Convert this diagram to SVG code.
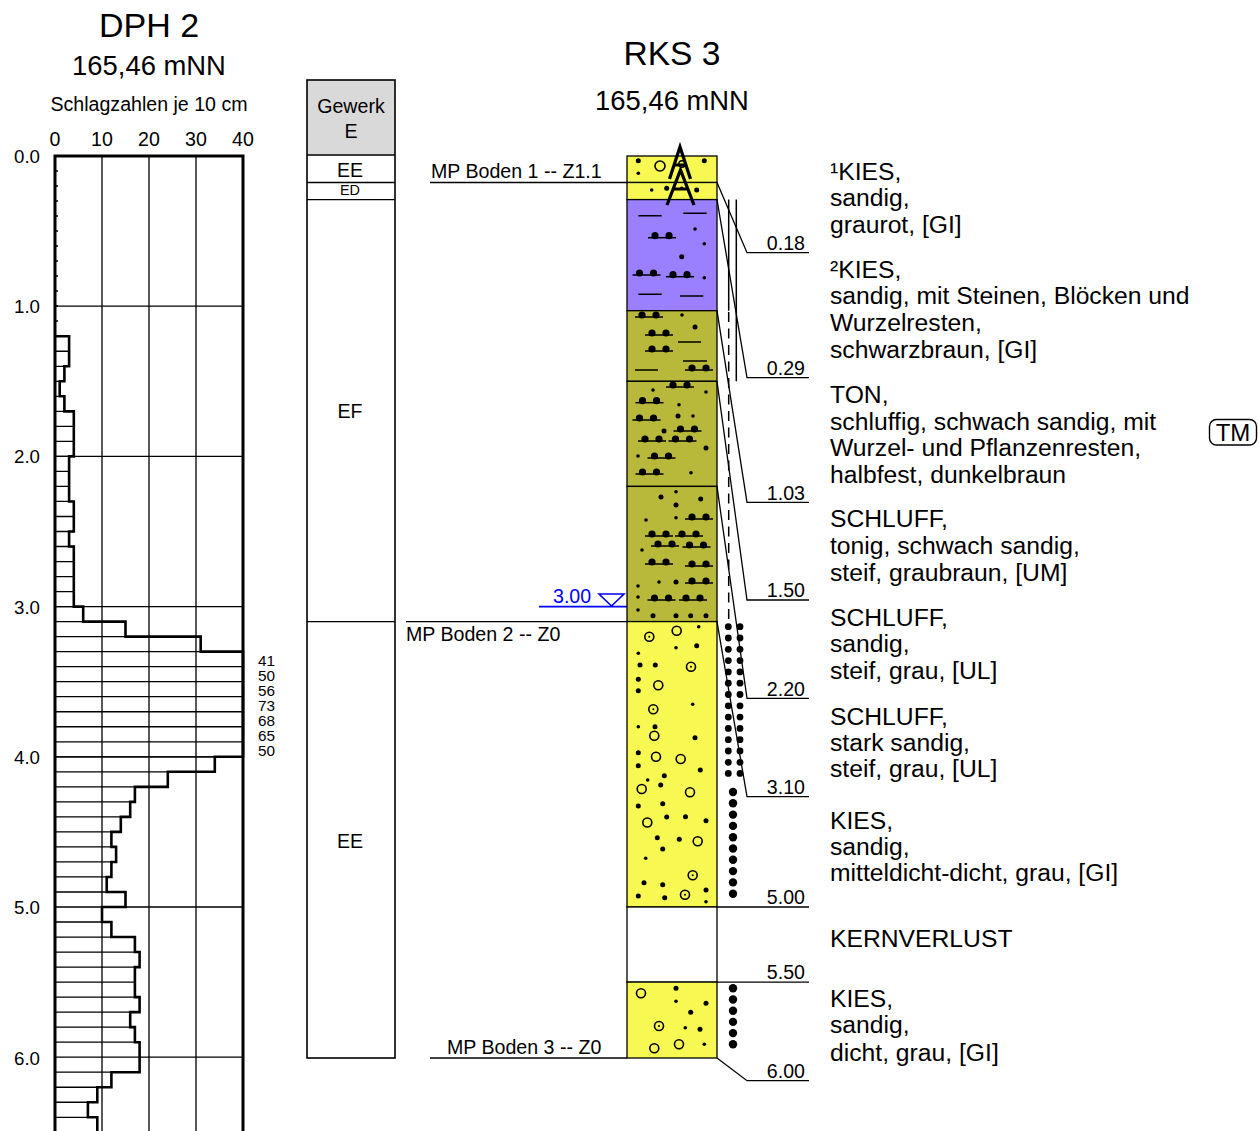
<svg xmlns="http://www.w3.org/2000/svg" width="1259" height="1131" viewBox="0 0 1259 1131">
<style>
text{font-family:"Liberation Sans",Arial,Helvetica,sans-serif;fill:#000}
.s{font-size:19.6px}
.d{font-size:24.7px}
.c{text-anchor:middle}
.r{text-anchor:end}
.th{stroke:#000;stroke-width:1.3;fill:none}
.tk{stroke:#000;stroke-width:2.6;fill:none}
.lay{stroke:#000;stroke-width:1.3}
.ds{stroke:#000;stroke-width:1.5}
.ye{fill:#f8f852}
.pu{fill:#9a80ff}
.ol{fill:#b8b83a}
</style>
<defs>
<g id="m"><path d="M-14,0H14" stroke="#000" stroke-width="1.5"/><circle cx="-7" cy="-2" r="3.6"/><circle cx="7" cy="-2" r="3.6"/></g>
<circle id="o" r="4.5" fill="none" stroke="#000" stroke-width="1.6"/>
<g id="od"><circle r="4.5" fill="none" stroke="#000" stroke-width="1.6"/><circle r="1"/></g>
<circle id="b" r="2.5"/>
<circle id="p" r="1.8"/>
<circle id="k" r="3.4"/>
<circle id="K" r="4.2"/>
</defs>

<!-- DPH 2 -->
<g id="dph">
<text x="149" y="37" class="c" style="font-size:34px">DPH 2</text>
<text x="149" y="75" class="c" style="font-size:27.4px">165,46 mNN</text>
<text x="149" y="111" class="c s">Schlagzahlen je 10 cm</text>
<g class="s c">
<text x="55" y="146">0</text><text x="102" y="146">10</text><text x="149" y="146">20</text><text x="196" y="146">30</text><text x="243" y="146">40</text>
</g>
<g class="s r" style="font-size:18.7px">
<text x="40" y="163">0.0</text><text x="40" y="313">1.0</text><text x="40" y="463">2.0</text><text x="40" y="614">3.0</text><text x="40" y="764">4.0</text><text x="40" y="914">5.0</text><text x="40" y="1065">6.0</text>
</g>
<path class="th" d="M102,156V1131M149,156V1131M196,156V1131M55,306.2H243M55,456.4H243M55,606.6H243M55,756.8H243M55,907H243M55,1057.2H243"/>
<path class="th" d="M55,171H58M55,186H58M55,201H58M55,216H58M55,231H58M55,246H58M55,261H58M55,276H58M55,291H58M55,306H58M55,321H58"/>
<path class="th" d="M55,351.26H69.1M55,366.28H69.1M55,381.3H64.4M55,396.32H64.4M55,411.34H73.8M55,426.36H73.8M55,441.38H73.8M55,456.4H73.8M55,471.42H69.1M55,486.44H69.1M55,501.46H73.8M55,516.48H73.8M55,531.5H73.8M55,546.52H73.8M55,561.54H73.8M55,576.56H73.8M55,591.58H73.8M55,606.6H83.2M55,621.62H125.5M55,636.64H200.7M55,651.66H243M55,666.68H243M55,681.7H243M55,696.72H243M55,711.74H243M55,726.76H243M55,741.78H243M55,756.8H243M55,771.82H214.8M55,786.84H167.8M55,801.86H134.9M55,816.88H130.2M55,831.9H120.8M55,846.92H116.1M55,861.94H116.1M55,876.96H111.4M55,891.98H125.5M55,922.02H111.4M55,937.04H134.9M55,952.06H139.6M55,967.08H139.6M55,982.1H134.9M55,997.12H139.6M55,1012.14H139.6M55,1027.16H134.9M55,1042.18H139.6M55,1072.22H139.6M55,1087.24H111.4M55,1102.26H97.3M55,1117.28H97.3"/>
<path class="tk" d="M55,336.24H69.1V366.28H64.4V381.3H59.7V396.32H64.4V411.34H73.8V456.4H69.1V501.46H73.8V531.5H69.1V546.52H73.8V606.6H83.2V621.62H125.5V636.64H200.7V651.66H243V756.8H214.8V771.82H167.8V786.84H134.9V801.86H130.2V816.88H120.8V831.9H111.4V846.92H116.1V861.94H111.4V876.96H106.7V891.98H125.5V907H102V922.02H111.4V937.04H134.9V952.06H139.6V967.08H134.9V997.12H139.6V1012.14H130.2V1027.16H134.9V1042.18H139.6V1072.22H111.4V1087.24H97.3V1102.26H87.9V1117.28H97.3V1131"/>
<path class="tk" d="M55,1131V156H243V1131" style="stroke-width:3"/>
<g style="font-size:15.3px">
<text x="258" y="666">41</text><text x="258" y="681">50</text><text x="258" y="696">56</text><text x="258" y="711">73</text><text x="258" y="726">68</text><text x="258" y="741">65</text><text x="258" y="756">50</text>
</g>
</g>

<!-- Gewerk column -->
<g id="gewerk">
<rect x="307" y="80" width="88" height="75" fill="#d9d9d9"/>
<rect x="307" y="80" width="88" height="978" fill="none" stroke="#000" stroke-width="1.6"/>
<path class="th" d="M307,155H395M307,182.5H395M307,199.6H395M307,621.6H395"/>
<text x="351" y="113" class="c s">Gewerk</text>
<text x="351" y="138" class="c s">E</text>
<text x="350" y="177" class="c s">EE</text>
<text x="350" y="195" class="c" style="font-size:14.4px">ED</text>
<text x="350" y="418" class="c s">EF</text>
<text x="350" y="848" class="c s">EE</text>
</g>

<!-- RKS 3 header -->
<g id="rks-title">
<text x="672" y="65" class="c" style="font-size:33.6px">RKS 3</text>
<text x="672" y="110" class="c" style="font-size:27.4px">165,46 mNN</text>
</g>

<!-- sample markers / water level -->
<g id="samples">
<text x="431" y="178" class="s">MP Boden 1 -- Z1.1</text>
<path class="th" d="M430,182.5H627"/>
<text x="406" y="641" class="s">MP Boden 2 -- Z0</text>
<path class="th" d="M406,621.6H627"/>
<text x="447" y="1054" class="s">MP Boden 3 -- Z0</text>
<path class="th" d="M430,1058H627"/>
</g>
<g id="water">
<text x="553" y="603" class="s" style="fill:#0000ff">3.00</text>
<path d="M539,606.6H627M599,594H624L611.5,606Z" fill="none" stroke="#0000ff" stroke-width="1.6"/>
</g>

<!-- RKS column layers -->
<g id="rks">
<g id="layer1">
<rect class="ye lay" x="627" y="156" width="90" height="26.5"/>
<use href="#b" x="638.3" y="160.7"/><use href="#b" x="704.3" y="160.7"/><use href="#p" x="638.3" y="173.3"/>
<circle cx="660" cy="166" r="5" fill="none" stroke="#000" stroke-width="1.6"/>
<circle cx="682" cy="164" r="3.2" fill="none" stroke="#000" stroke-width="1.4"/>
</g>
<g id="layer2">
<rect class="ye lay" x="627" y="182.5" width="90" height="17.1"/>
<use href="#p" x="651.7" y="190"/><use href="#b" x="666.7" y="188.3"/><use href="#p" x="681.7" y="188.3"/><use href="#b" x="696.7" y="190"/>
</g>
<g id="layer3">
<rect class="pu lay" x="627" y="199.6" width="90" height="111.1"/>
<path class="ds" d="M638.3,215.7H661.7M683.3,213.3H706.7M638.3,294.3H661.7M680,296H703.3"/>
<use href="#m" x="662" y="237.7"/><use href="#m" x="646.5" y="275"/><use href="#m" x="680" y="276.7"/>
<use href="#p" x="695" y="229"/><use href="#p" x="704.3" y="243.7"/><use href="#b" x="681.7" y="256.7"/><use href="#p" x="704.3" y="277.7"/>
</g>
<g id="layer4">
<rect class="ol lay" x="627" y="310.7" width="90" height="70.6"/>
<path class="ds" d="M678,342H701M683,361H707M635,370H658"/>
<use href="#m" x="649" y="317"/><use href="#m" x="659" y="335"/><use href="#m" x="659" y="351"/><use href="#m" x="699" y="370"/>
<use href="#p" x="682" y="315"/><use href="#b" x="695" y="327"/>
</g>
<g id="layer5">
<rect class="ol lay" x="627" y="381.3" width="90" height="105.1"/>
<use href="#m" x="680" y="387"/><use href="#m" x="649.5" y="402.7"/><use href="#m" x="646.5" y="420"/><use href="#m" x="687.5" y="431"/><use href="#m" x="652" y="441"/><use href="#m" x="682.5" y="441"/><use href="#m" x="661.5" y="458"/><use href="#m" x="649.5" y="474"/>
<use href="#p" x="653" y="390"/><use href="#p" x="706" y="392"/><use href="#p" x="679" y="404.7"/><use href="#b" x="678" y="416"/><use href="#p" x="693" y="416"/><use href="#b" x="664" y="431"/><use href="#b" x="706" y="448"/><use href="#p" x="638" y="456"/><use href="#p" x="691" y="472.7"/>
</g>
<g id="layer6">
<rect class="ol lay" x="627" y="486.4" width="90" height="135.2"/>
<use href="#m" x="699" y="519"/><use href="#m" x="659" y="536"/><use href="#m" x="689" y="536"/><use href="#m" x="665" y="546"/><use href="#m" x="696.5" y="547"/><use href="#m" x="659" y="564"/><use href="#m" x="699" y="566"/><use href="#m" x="699" y="583"/><use href="#m" x="661.5" y="600"/><use href="#m" x="693" y="600"/>
<use href="#b" x="661" y="497"/><use href="#p" x="676" y="491.7"/><use href="#b" x="676" y="505"/><use href="#b" x="700.7" y="499"/><use href="#p" x="646" y="520"/><use href="#p" x="676" y="517.7"/><use href="#p" x="642" y="550"/><use href="#p" x="659" y="582"/><use href="#b" x="676" y="582"/><use href="#p" x="638" y="586"/><use href="#p" x="638" y="597"/><use href="#p" x="638" y="610"/><use href="#b" x="653" y="615.7"/><use href="#b" x="676" y="615.7"/><use href="#b" x="690.7" y="615.7"/><use href="#b" x="706" y="615.7"/>
</g>
<g id="layer7">
<rect class="ye lay" x="627" y="621.6" width="90" height="285.4"/>
<use href="#od" x="649.3" y="636.7"/><use href="#od" x="691" y="666.7"/><use href="#od" x="653.3" y="709.3"/><use href="#od" x="692.7" y="875.3"/><use href="#od" x="685" y="894.7"/>
<use href="#o" x="676.7" y="630.7"/><use href="#o" x="658.3" y="685.3"/><use href="#o" x="654.3" y="735.7"/><use href="#o" x="656" y="756.7"/><use href="#o" x="680.7" y="759"/><use href="#o" x="641.7" y="789"/><use href="#o" x="690" y="792.3"/><use href="#o" x="647.3" y="822.5"/><use href="#o" x="697.7" y="841.3"/>
<use href="#p" x="698.7" y="626.7"/><use href="#p" x="676" y="647.7"/><use href="#b" x="696.7" y="645.7"/><use href="#p" x="638.3" y="653.3"/><use href="#b" x="640" y="665"/><use href="#b" x="655.3" y="665"/><use href="#b" x="638.3" y="679.3"/><use href="#b" x="638.3" y="690.7"/><use href="#p" x="692.7" y="704.3"/><use href="#p" x="638.3" y="726.7"/><use href="#b" x="655" y="726.7"/><use href="#b" x="695" y="737.7"/><use href="#b" x="638.3" y="752.7"/><use href="#b" x="638.3" y="765.7"/><use href="#b" x="700.3" y="770"/><use href="#b" x="664.3" y="775.7"/><use href="#p" x="647.7" y="780"/><use href="#b" x="660.7" y="785"/><use href="#b" x="662.7" y="803.7"/><use href="#b" x="638.3" y="806"/><use href="#b" x="666.7" y="817"/><use href="#b" x="685.5" y="816.7"/><use href="#b" x="706" y="820.7"/><use href="#b" x="657.3" y="837.7"/><use href="#b" x="679.3" y="839.3"/><use href="#b" x="662.7" y="849"/><use href="#p" x="645.7" y="858.3"/><use href="#b" x="644" y="882.7"/><use href="#b" x="662.7" y="884.7"/><use href="#b" x="706" y="890"/><use href="#b" x="638.3" y="896"/><use href="#b" x="664.7" y="897.7"/><use href="#p" x="706" y="901.7"/>
</g>
<g id="layer8">
<rect class="lay" x="627" y="907" width="90" height="75.1" fill="#fff"/>
</g>
<g id="layer9">
<rect class="ye lay" x="627" y="982.1" width="90" height="75.9"/>
<use href="#o" x="641" y="993.3"/><use href="#o" x="654.3" y="1048.3"/><use href="#o" x="679" y="1044.3"/><use href="#od" x="659" y="1026"/>
<use href="#b" x="676" y="988.3"/><use href="#p" x="676" y="1001.3"/><use href="#b" x="706" y="1003.3"/><use href="#b" x="690.7" y="1012.3"/><use href="#p" x="685.3" y="1027.7"/><use href="#b" x="700" y="1029.3"/><use href="#p" x="704.3" y="1044.3"/>
</g>
<g id="drill">
<path d="M669.5,179L680,147L690.5,179M675,165H685M667,205L680.5,170L694,205M672.5,189H688.5" fill="none" stroke="#000" stroke-width="3.2" stroke-linejoin="miter"/>
</g>
</g>

<!-- consistency marks -->
<g id="consistency">
<path class="th" d="M728.7,199.6V310.7M736.3,199.6V381.3" style="stroke-width:1.5"/>
<path class="th" d="M728.7,312V621.6" style="stroke-width:1.5;stroke-dasharray:10 6.5"/>
<g>
<use href="#k" x="728.3" y="626.7"/><use href="#k" x="728.3" y="638"/><use href="#k" x="728.3" y="649.3"/><use href="#k" x="728.3" y="660.6"/><use href="#k" x="728.3" y="671.9"/><use href="#k" x="728.3" y="683.2"/><use href="#k" x="728.3" y="694.5"/><use href="#k" x="728.3" y="705.8"/><use href="#k" x="728.3" y="717.1"/><use href="#k" x="728.3" y="728.4"/><use href="#k" x="728.3" y="739.7"/><use href="#k" x="728.3" y="751"/><use href="#k" x="728.3" y="762.3"/><use href="#k" x="728.3" y="773.4"/>
<use href="#k" x="740" y="626.7"/><use href="#k" x="740" y="638"/><use href="#k" x="740" y="649.3"/><use href="#k" x="740" y="660.6"/><use href="#k" x="740" y="671.9"/><use href="#k" x="740" y="683.2"/><use href="#k" x="740" y="694.5"/><use href="#k" x="740" y="705.8"/><use href="#k" x="740" y="717.1"/><use href="#k" x="740" y="728.4"/><use href="#k" x="740" y="739.7"/><use href="#k" x="740" y="751"/><use href="#k" x="740" y="762.3"/><use href="#k" x="740" y="773.4"/>
</g>
<g>
<use href="#K" x="733" y="792"/><use href="#K" x="733" y="803.3"/><use href="#K" x="733" y="814.6"/><use href="#K" x="733" y="825.9"/><use href="#K" x="733" y="837.2"/><use href="#K" x="733" y="848.5"/><use href="#K" x="733" y="859.8"/><use href="#K" x="733" y="871.1"/><use href="#K" x="733" y="882.4"/><use href="#K" x="733" y="893.7"/>
<use href="#K" x="733" y="988.3"/><use href="#K" x="733" y="999.5"/><use href="#K" x="733" y="1010.7"/><use href="#K" x="733" y="1021.9"/><use href="#K" x="733" y="1033.1"/><use href="#K" x="733" y="1044.3"/>
</g>
</g>

<!-- leader connectors -->
<g id="connectors" fill="none" stroke="#000" stroke-width="1.3">
<path d="M717,182.5L747,252.7H809"/>
<path d="M717,199.6L747,377.7H809"/>
<path d="M717,310.7L747,502.3H809"/>
<path d="M717,381.3L747,600H809"/>
<path d="M717,486.4L747,698.3H809"/>
<path d="M717,621.6L747,796.7H809"/>
<path d="M717,907H809"/>
<path d="M717,982.1H809"/>
<path d="M717,1058L747,1080.7H809"/>
</g>

<!-- depth labels -->
<g id="depths" class="s r">
<text x="805" y="250">0.18</text>
<text x="805" y="375">0.29</text>
<text x="805" y="499.5">1.03</text>
<text x="805" y="597">1.50</text>
<text x="805" y="695.5">2.20</text>
<text x="805" y="794">3.10</text>
<text x="805" y="904">5.00</text>
<text x="805" y="979">5.50</text>
<text x="805" y="1078">6.00</text>
</g>

<!-- descriptions -->
<g id="descriptions" class="d">
<text x="830" y="180">¹KIES,</text>
<text x="830" y="206">sandig,</text>
<text x="830" y="233">graurot, [GI]</text>
<text x="830" y="278">²KIES,</text>
<text x="830" y="304">sandig, mit Steinen, Blöcken und</text>
<text x="830" y="331">Wurzelresten,</text>
<text x="830" y="358">schwarzbraun, [GI]</text>
<text x="830" y="403">TON,</text>
<text x="830" y="430">schluffig, schwach sandig, mit</text>
<text x="830" y="456">Wurzel- und Pflanzenresten,</text>
<text x="830" y="483">halbfest, dunkelbraun</text>
<text x="830" y="527">SCHLUFF,</text>
<text x="830" y="554">tonig, schwach sandig,</text>
<text x="830" y="581">steif, graubraun, [UM]</text>
<text x="830" y="626">SCHLUFF,</text>
<text x="830" y="652">sandig,</text>
<text x="830" y="679">steif, grau, [UL]</text>
<text x="830" y="725">SCHLUFF,</text>
<text x="830" y="751">stark sandig,</text>
<text x="830" y="777">steif, grau, [UL]</text>
<text x="830" y="829">KIES,</text>
<text x="830" y="855">sandig,</text>
<text x="830" y="881">mitteldicht-dicht, grau, [GI]</text>
<text x="830" y="947">KERNVERLUST</text>
<text x="830" y="1007">KIES,</text>
<text x="830" y="1033">sandig,</text>
<text x="830" y="1061">dicht, grau, [GI]</text>
</g>

<g id="tm">
<rect x="1209.5" y="419.5" width="47" height="25.5" rx="7" fill="none" stroke="#000" stroke-width="1.4"/>
<text x="1233" y="441" class="c" style="font-size:24px">TM</text>
</g>
</svg>
